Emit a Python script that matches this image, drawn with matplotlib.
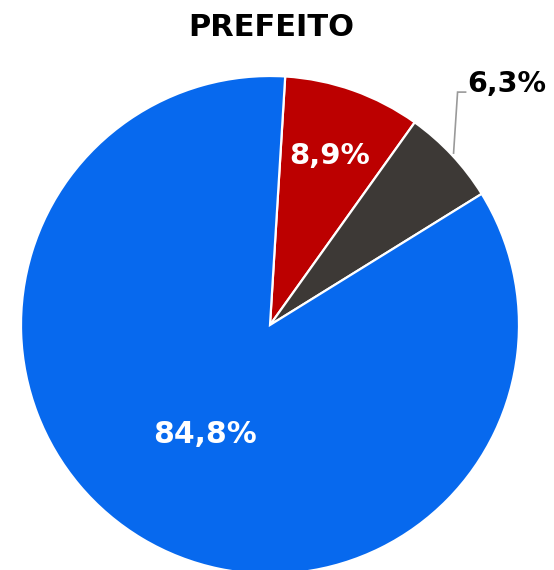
import numpy as np
import matplotlib
matplotlib.use("Agg")
from matplotlib import pyplot

# dados
labels = ["8,9%", "6,3%", "84,8%"]
valores = [8.9, 6.3, 84.8]
cores = ["#BC0000", "#3D3936", "#0769EE"]

fig = pyplot.figure(figsize=(5.54, 5.70), dpi=100)
ax = fig.add_axes([0, 0, 1, 1])

cx, cy, r = 270, 245, 249
wedges, _ = ax.pie(valores, colors=cores, startangle=86.5, counterclock=False,
                   center=(cx, cy), radius=r, frame=True,
                   wedgeprops=dict(edgecolor="white", linewidth=1.6))
ax.set_xlim(0, 554)
ax.set_ylim(0, 570)
ax.set_aspect("equal")
ax.axis("off")

def mid(w):
    return np.deg2rad((w.theta1 + w.theta2) / 2)

fonte = dict(family="DejaVu Sans", fontweight="bold")

# 8,9% dentro da fatia
a = mid(wedges[0])
ax.text(cx + 0.72 * r * np.cos(a), cy + 0.72 * r * np.sin(a), labels[0],
        color="white", ha="center", va="center", fontsize=21, **fonte)

# 84,8%
a = mid(wedges[2])
ax.text(cx + 0.51 * r * np.cos(a), cy + 0.51 * r * np.sin(a), labels[2],
        color="white", ha="center", va="center", fontsize=21.5, **fonte)

# 6,3% fora, com linha
a = mid(wedges[1])
x0, y0 = cx + 1.01 * r * np.cos(a), cy + 1.01 * r * np.sin(a)
ax.plot([x0, x0 + 4, x0 + 12], [y0, y0 + 61, y0 + 61], color="#9A9A9A", lw=1.2,
        solid_joinstyle="miter")
ax.text(x0 + 14, y0 + 69, labels[1], color="black", ha="left", va="center",
        fontsize=20.5, **fonte)

fig.text(271 / 554, 1 - 27 / 570, "PREFEITO", ha="center", va="center",
         color="black", fontsize=22, **fonte)

fig.savefig("out.png", dpi=100)
